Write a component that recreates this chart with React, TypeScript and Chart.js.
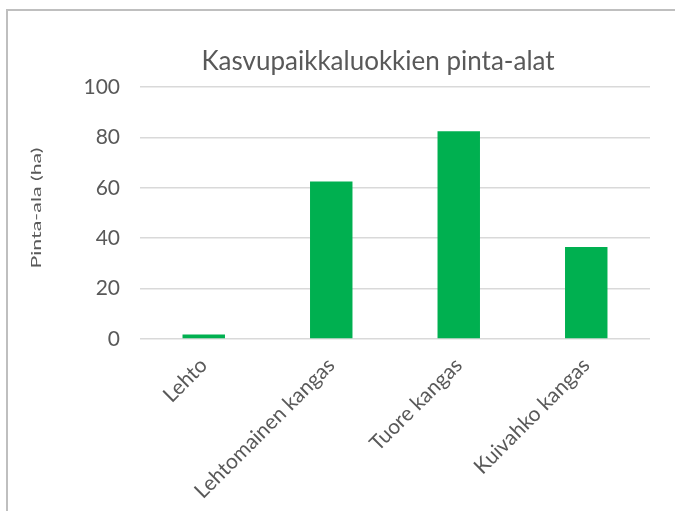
import React, { useEffect, useRef } from "react";
import { Chart, registerables } from "chart.js";

Chart.register(...registerables);

const categories = ["Lehto", "Lehtomainen kangas", "Tuore kangas", "Kuivahko kangas"];
const areaValues = [1.8, 62.5, 82.4, 36.5];
const chartTitle = "Kasvupaikkaluokkien pinta-alat";
const yAxisTitle = "Pinta-ala (ha)";

const FONT = "Lato, 'Open Sans', sans-serif";
const TEXT = "#595959";

const titlesPlugin = {
  id: "excelTitles",
  afterDraw(chart: any) {
    const { ctx, chartArea } = chart;
    // chart title (centred over the whole Excel chart frame)
    ctx.save();
    ctx.font = `26px ${FONT}`;
    ctx.fillStyle = TEXT;
    ctx.textAlign = "center";
    ctx.textBaseline = "middle";
    ctx.fillText(chartTitle, 370, 51);
    ctx.restore();
    // y axis title (stretched along its direction, as in the original)
    ctx.save();
    ctx.font = `13.5px ${FONT}`;
    ctx.fillStyle = TEXT;
    ctx.textAlign = "center";
    ctx.textBaseline = "middle";
    const w = ctx.measureText(yAxisTitle).width;
    const stretch = 121 / w;
    ctx.translate(28.5, (chartArea.top + chartArea.bottom) / 2 - 5);
    ctx.rotate(-Math.PI / 2);
    ctx.scale(stretch, 1);
    ctx.fillText(yAxisTitle, 0, 0);
    ctx.restore();
  },
};

export default function App() {
  const ref = useRef<HTMLCanvasElement>(null);

  useEffect(() => {
    document.documentElement.style.overflow = "hidden";
    const ctx = ref.current!;
    const chart = new Chart(ctx, {
      type: "bar",
      data: {
        labels: categories,
        datasets: [
          {
            data: areaValues,
            backgroundColor: "#00B050",
            borderWidth: 0,
            barPercentage: 0.333,
            categoryPercentage: 1,
          },
        ],
      },
      plugins: [titlesPlugin],
      options: {
        animation: false,
        responsive: false,
        maintainAspectRatio: false,
        layout: { padding: { left: 20, right: 102, top: 76, bottom: 0 } },
        plugins: {
          legend: { display: false },
          tooltip: { enabled: false },
          title: { display: false },
        },
        scales: {
          x: {
            grid: { display: false, drawTicks: false },
            border: { display: false },
            ticks: {
              color: TEXT,
              font: { family: FONT, size: 21 },
              minRotation: 45,
              maxRotation: 45,
              padding: 14,
            },
            afterFit: (s: any) => {
              s.height = 172;
            },
          },
          y: {
            min: 0,
            max: 100,
            ticks: {
              stepSize: 20,
              color: TEXT,
              font: { family: FONT, size: 21 },
              padding: 20,
            },
            grid: { color: "#d9d9d9", lineWidth: 1.5, drawTicks: false },
            border: { display: false },
            afterFit: (s: any) => {
              s.width = 112;
            },
          },
        },
      },
    });
    return () => chart.destroy();
  }, []);

  return (
    <div
      style={{
        position: "fixed",
        left: 6,
        top: 9,
        width: 746,
        height: 502,
        borderLeft: "2px solid #bfbfbf",
        borderTop: "2px solid #bfbfbf",
        background: "#fff",
      }}
    >
      <canvas ref={ref} width={744} height={500} style={{ display: "block" }} />
    </div>
  );
}
